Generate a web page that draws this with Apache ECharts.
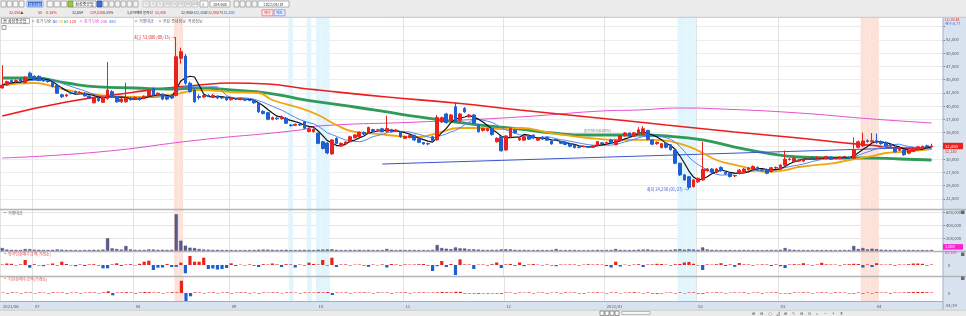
<!DOCTYPE html>
<html><head><meta charset="utf-8">
<script src="https://cdn.jsdelivr.net/npm/echarts@6/dist/echarts.min.js"></script>
<style>html,body{margin:0;padding:0;background:#fff;overflow:hidden}#chart{width:966px;height:316px}</style>
</head><body><div id="chart"></div>
<script>
// ---------------- DATA ----------------
const tradingDays = {
  '2021/06':[22,23,24,25,28,29,30],
  '2021/07':[1,2,5,6,7,8,9,12,13,14,15,16,19,20,21,22,23,26,27,28,29,30],
  '2021/08':[2,3,4,5,6,9,10,11,12,13,17,18,19,20,23,24,25,26,27,30,31],
  '2021/09':[1,2,3,6,7,8,9,10,13,14,15,16,17,23,24,27,28,29,30],
  '2021/10':[1,5,6,7,8,12,13,14,15,18,19,20,21,22,25,26,27,28,29],
  '2021/11':[1,2,3,4,5,8,9,10,11,12,15,16,17,18,19,22,23,24,25,26,29,30],
  '2021/12':[1,2,3,6,7,8,9,10,13,14,15,16,17,20,21,22,23,24,27,28,29,30],
  '2022/01':[3,4,5,6,7,10,11,12,13,14,17,18,19,20,21,24,25,26,27,28],
  '2022/02':[3,4,7,8,9,10,11,14,15,16,17,18,21,22,23,24,25,28],
  '2022/03':[2,3,4,7,8,10,11,14,15,16,17,18,21,22,23,24,25,28,29,30,31],
  '2022/04':[1,4,5,6,7,8,11,12,13,14,15,18,19]
};
const monthTickLabels = {'2021/06':'2021/06','2021/07':'07','2021/08':'08','2021/09':'09','2021/10':'10','2021/11':'11','2021/12':'12','2022/01':'2022/01','2022/02':'02','2022/03':'03','2022/04':'04'};
const priceAxisTicks = [22500,25000,27500,30000,32500,35000,37500,40000,42500,45000,47500,50000,52500];
const volumeAxisTicks = [200000,400000,600000];

// [open, close, low, high]
const priceRows = [
[43400,43950,43300,47700],[43950,44600,43800,44800],[44800,44500,44300,45000],[44600,44800,44400,45000],[45000,44700,44600,45200],
[44400,45400,44300,45600],[46200,45500,45300,46500],[45600,45100,45000,45800],[45600,44800,44700,45800],[45100,44700,44600,45300],
[44700,44600,44400,44900],[44400,43650,43500,44600],[43900,42400,42300,44000],[42100,41750,41500,42300],[41900,42100,41700,42300],
[42500,42400,42200,42700],[42700,42500,42300,42900],[42500,42550,42300,42800],[42400,41900,41800,42600],[41900,41500,41300,42000],
[40600,41500,40500,41700],[41400,41000,40800,41600],[40700,41600,40600,41800],[41400,43000,41200,48300],[42700,41650,41500,43000],
[41750,40800,40600,41900],[40800,41300,40600,41500],[40800,41500,40600,44400],[41450,41200,41000,41700],[41400,41600,41200,41800],
[41500,41200,41000,41700],[41400,41850,41300,42000],[41900,43000,41800,43200],[43300,42100,41900,43500],[42100,42400,41900,42600],
[42200,41300,41100,42400],[41700,41300,41100,41900],[42000,41500,41300,42200],[42000,49300,41800,53000],[49000,50250,48000,51000],
[49400,44300,44000,49800],[44300,42700,42500,44600],[43000,40800,40600,43300],[41800,41600,41200,42200],[41700,42000,41500,42300],
[42000,41900,41700,42200],[41700,42000,41500,42300],[41850,41500,41300,42000],[41600,41500,41300,41800],[41600,41150,41000,41800],
[41200,41400,41000,41600],[41350,41300,41100,41500],[41200,41400,41100,41600],[41300,41100,40900,41400],[41100,41050,40900,41300],
[41000,40600,40400,41100],[40550,38900,38700,40700],[39000,38600,38400,39200],[38750,37500,37300,38900],[37500,37800,37300,38000],
[37700,37600,37400,37900],[37600,38000,37400,38200],[37700,36750,36600,37900],[36400,36300,36100,36600],[36350,36550,36200,36700],
[36600,36400,36200,36800],[37050,35800,35600,37200],[35200,35700,35000,35900],[35150,35600,35000,35800],[34850,32950,32800,35000],
[33250,32000,31800,33400],[33000,31150,30900,33200],[30950,33600,30800,33800],[33900,32950,32800,34100],[32450,32950,32300,33100],
[32850,33200,32700,33400],[33250,34200,33100,34400],[34000,34550,33900,34700],[34250,35050,34100,35200],[35000,34700,34500,35200],
[34850,35950,34700,36100],[35550,35200,35000,35700],[35450,35500,35300,35700],[35700,35150,35000,35900],[35200,35750,35000,38200],
[35550,35150,35000,35700],[35200,35450,35100,35600],[35150,34200,34000,35300],[33900,34250,33800,34400],[34050,34450,33900,34600],
[34450,33600,33400,34600],[33800,33150,33000,33900],[33100,32850,32700,33200],[32900,32850,32600,33100],[34200,33500,33300,34400],
[33600,37850,33500,38300],[37000,37800,36800,38000],[38500,36850,36700,38700],[37300,38300,37100,38500],[39850,37050,36900,40600],
[37300,38500,37100,38700],[39550,38900,38700,39800],[37950,38300,37800,38500],[38300,36750,36600,38500],[36400,35150,35000,36600],
[35400,35750,35200,35900],[35350,35700,35200,35900],[35800,34600,34400,36000],[33250,33900,33100,34100],[34200,31550,31400,34400],
[31700,34350,31500,34500],[34200,35800,34000,36000],[35450,34950,34800,35600],[33600,33900,33400,34100],[33550,34200,33400,34400],
[34300,33750,33600,34500],[34500,33950,33800,34600],[33550,33950,33400,34100],[34150,33750,33600,34300],[34100,33550,33400,34200],
[33400,32850,32700,33500],[33650,33600,33400,33800],[33300,32950,32800,33400],[33150,32750,32600,33300],[32800,32400,32200,32900],
[32600,32150,32000,32700],[32250,32200,32000,32400],[32350,32400,32200,32500],[32300,32250,32100,32450],[32200,32500,32100,32600],
[32500,33300,32400,33400],[33050,32900,32800,33200],[33000,33100,32800,33300],[33600,33100,32900,33800],[32700,33550,32600,33700],
[33500,34400,33400,34500],[34400,34900,34200,35100],[34900,34300,34100,35000],[34300,34950,34200,35100],[34800,35500,34600,36000],
[34700,35700,34600,36200],[35400,33700,33500,35500],[33600,32800,32600,33700],[32900,33150,32700,33300],[32150,32900,32000,33000],
[33000,32200,32000,33100],[32700,31750,31600,32800],[31700,29200,29000,31800],[29200,27000,26800,29300],[27000,26050,25900,27200],
[26650,24650,24250,26800],[24800,26050,24600,26200],[25700,26350,25500,26500],[26050,28050,25900,33250],[27800,28100,27600,28300],
[28100,27500,27300,28300],[27450,28100,27300,28300],[28400,27800,27600,28600],[27500,27200,27000,27700],[27300,26700,26500,27400],
[26800,26900,26600,27000],[27300,27900,27100,28100],[27500,28100,27300,28300],[27950,28300,27800,28500],[28100,28600,27900,28800],
[28400,27950,27800,28600],[27950,27900,27700,28100],[28000,27300,27100,28200],[27650,28350,27500,28500],[28300,28400,28100,28600],
[28050,28850,27900,29000],[28850,29950,28700,31600],[29900,30000,29700,30200],[29500,30150,29400,30300],[29600,29800,29400,30000],
[29600,29900,29400,30100],[29950,30000,29800,30200],[30300,29950,29800,30400],[30050,30350,29900,30500],[30200,30250,30000,30400],
[30050,30450,29900,30600],[30350,29950,29800,30500],[30100,30150,29900,30300],[30100,30400,29950,30500],[30400,30450,30200,30600],
[30300,30200,30100,30500],[30150,31700,30000,34050],[32200,33250,32000,33500],[32450,33400,32300,35000],[33450,33300,33100,33700],
[33250,33450,33100,34900],[33450,33100,32900,34800],[33300,32900,32700,33500],[33150,32500,32300,33300],[32800,32500,32300,33000],
[32000,31350,31200,32100],[31650,32150,31500,32300],[31700,30800,30600,31800],[31100,31700,30900,31900],[31400,32000,31300,32200],
[31700,32300,31600,32400],[32000,32400,31900,32500],[32500,32300,32100,32700],[32300,32450,32300,32900]
];

const tradeValue = [
45000,22000,18000,17000,16000,30000,28000,20000,18000,16000,
15000,18000,24000,20000,16000,15000,14000,13000,16000,17000,
19000,17000,22000,195000,40000,30000,22000,77000,24000,18000,
16000,17000,24000,22000,18000,19000,17000,18000,565000,158000,
82000,51000,45000,30000,22000,20000,18000,17000,16000,15000,
15000,14000,13000,14000,15000,16000,20000,22000,21000,18000,
16000,17000,19000,15000,14000,16000,18000,15000,14000,20000,
22000,24000,26000,18000,15000,14000,17000,16000,18000,14000,
18000,15000,14000,15000,31000,18000,14000,17000,16000,15000,
16000,15000,14000,13000,18000,92000,46000,35000,28000,55000,
40000,38000,25000,26000,22000,18000,16000,18000,17000,24000,
26000,24000,18000,16000,17000,15000,14000,15000,14000,14000,
16000,30000,15000,14000,15000,16000,13000,12000,13000,14000,
18000,14000,15000,16000,30000,18000,16000,15000,17000,20000,
22000,24000,18000,15000,16000,15000,17000,24000,28000,20000,
26000,22000,18000,55000,24000,18000,16000,15000,14000,16000,
13000,15000,16000,14000,15000,13000,12000,14000,16000,15000,
18000,45000,22000,18000,15000,14000,13000,14000,15000,14000,
15000,14000,13000,14000,15000,16000,77000,30000,45000,24000,
35000,28000,20000,18000,16000,18000,15000,17000,16000,15000,
14000,15000,13000,16000
];

const foreignNet = [
5,15,12,-4,6,50,-27,8,-5,-12,
4,15,-6,33,10,-4,-12,5,-10,6,
8,-6,-33,-33,6,17,-10,5,8,-4,
12,33,43,-50,-27,-25,10,-20,-18,23,
-83,90,33,33,73,-40,-35,-45,-40,-30,
17,-10,4,-5,6,-8,-20,8,5,15,
6,-20,8,6,-25,5,-6,23,10,5,
50,-6,73,-20,5,6,-5,4,5,-6,
-18,5,-4,6,-25,10,5,-6,6,4,
5,8,10,-6,-60,-12,40,-20,10,-100,
57,6,5,-40,4,5,-6,8,25,-30,
6,10,-8,25,-12,5,10,4,-5,6,
-6,-12,5,4,6,5,-6,4,8,5,
6,4,-10,-25,33,-15,4,-6,5,8,
-20,5,6,12,10,4,-6,8,10,25,
30,12,-5,-50,6,4,8,18,-10,6,
-18,20,6,5,-6,4,6,5,-10,6,
-12,-30,5,8,6,18,4,-6,5,22,
6,5,4,-6,6,8,12,10,-25,6,
-20,18,5,4,6,-6,5,4,8,15,
15,12,-6,5
];

const instNet = [
4,-5,6,4,-5,6,5,-4,5,4,
-5,6,4,5,-6,4,5,-5,4,6,
5,-4,6,17,-23,5,6,8,5,-6,
6,10,8,5,6,-5,4,8,6,123,
-83,-33,6,5,-5,4,6,-4,5,6,
-5,4,6,5,-5,4,-6,5,4,6,
5,-4,6,5,4,-5,6,4,5,8,
6,10,-20,5,4,6,-5,4,5,6,
4,-5,6,4,5,-6,4,5,6,-5,
4,5,6,4,5,6,10,8,6,12,
12,-6,-5,-6,-8,-5,-6,-5,-6,-8,
5,4,-6,5,4,6,-5,4,5,-6,
4,5,-5,6,4,5,-5,-6,4,5,
6,4,-5,5,6,-4,4,5,8,4,
-5,6,-6,-8,-5,4,5,-5,6,-4,
5,6,-6,-8,5,4,6,5,-5,4,
5,4,6,-5,4,5,-6,4,5,6,
-4,-5,-6,5,4,6,5,-5,4,6,
5,-4,6,5,4,-5,-6,5,-6,4,
-5,6,4,5,-6,5,4,6,8,10,
10,10,8,5
];

// moving averages: [day index, value]
const ma20Pts = [[0,43960],[7,44340],[10,43960],[14,43020],[21,42080],[30,41700],[37,42080],[40,42640],[43,43020],[50,42640],[56,42450],[59,41130],[65,39620],[69,38300],[73,36420],[77,35100],[80,34900],[84,34530],[91,34150],[95,34900],[100,35850],[104,35850],[110,35660],[113,35850],[120,34900],[128,33960],[135,33590],[142,33590],[149,32640],[153,31130],[156,29810],[160,28870],[164,28110],[167,27550],[171,27920],[174,28490],[182,29250],[185,29810],[189,30380],[193,31130],[196,31320],[201,31700],[203,31890]];
const ma60Pts = [[0,45280],[7,45280],[14,44340],[21,43590],[29,43400],[36,43210],[43,43400],[50,43020],[58,42450],[65,41320],[69,40760],[77,39810],[84,38870],[91,37930],[99,36980],[106,36230],[113,35660],[120,34910],[128,34530],[139,34530],[145,34340],[153,33590],[160,32260],[167,31130],[174,30380],[182,30190],[189,30190],[196,30000],[203,29810]];
const ma120Pts = [[0,38110],[14,40760],[29,42640],[36,43400],[43,43960],[50,44340],[58,44150],[65,43400],[69,43020],[84,41700],[99,40570],[113,39250],[128,37930],[139,36980],[145,36420],[160,35100],[174,33960],[182,33210],[189,32640],[196,32080],[203,31890]];
const ma240Pts = [[0,30190],[21,31320],[43,33590],[65,35470],[69,36230],[91,36980],[113,37930],[131,39060],[139,39250],[148,39620],[157,39440],[174,38680],[190,37550],[203,36800]];
const trendPts = [[83,29050],[203,32250]];

const blueBandDays = [63,67,69,70,71,148,149,150,151];
const pinkBandDays = [38,39,188,189,190,191];

const highNote = {day:38, price:53000, text:'최고 53,000 (08/13)'};
const lowNote = {day:150, price:24250, text:'최저 24,250 (01/27)'};
const trendNote = {day:127, price:35300, text:'종가대비(0.00%)'};

// ---------------- BUILD ----------------
const categories = [];
const monthStart = {};
Object.keys(tradingDays).forEach(m => {
  monthStart[categories.length] = monthTickLabels[m];
  tradingDays[m].forEach(d => categories.push(m + '/' + String(d).padStart(2,'0')));
});
categories.push('', '');

const closes = priceRows.map(r => r[1]);
function sma(n){
  return closes.map((_, i) => { const s = Math.max(0, i-n+1); let t = 0; for (let k=s;k<=i;k++) t += closes[k]; return Math.round(t/(i-s+1)); });
}
const ma5 = sma(5), ma10 = sma(10);

const FONT = "'Noto Sans CJK KR','Liberation Sans',sans-serif";
const UP = '#e8231e', DOWN = '#1f5fd0';
const fmt = v => v.toLocaleString('en-US');
const AX = 4.2;

const G = [
  {left:0, right:23, top:13.25, height:198.75},
  {left:0, right:23, top:209, height:42},
  {left:0, right:23, top:251, height:25},
  {left:0, right:23, top:276, height:25}
];
const yr = [[20000,57500],[0,646154],[-110,140],[-80,170]];

function xAx(gi, showLabel){
  return {type:'category', gridIndex:gi, data:categories, boundaryGap:true,
    axisLine:{show:false}, axisTick:{show:false},
    axisLabel:{show:showLabel, interval:(i)=> (i in monthStart), formatter:(v,i)=> monthStart[i] || '',
      fontSize:AX, color:'#555', align:'left', margin:3, fontFamily:FONT},
    splitLine:{show:true, interval:(i)=> (i in monthStart), lineStyle:{color:'#e3e3e3', width:1}}};
}
function bandSeries(gi, days, color){
  return {type:'custom', xAxisIndex:gi, yAxisIndex:gi, silent:true, z:1, data:days.map(d=>[d]), encode:{x:0},
    renderItem:(p, api) => {
      const i = api.value(0);
      const a = api.coord([i, yr[gi][1]]), b = api.coord([i, yr[gi][0]]);
      const w = api.size([1, 0])[0];
      return {type:'rect', shape:{x:a[0]-w/2, y:a[1], width:w, height:b[1]-a[1]}, style:{fill:color}};
    }};
}
function lineS(name, data, color, width, smooth){
  return {name, type:'line', xAxisIndex:0, yAxisIndex:0, data, symbol:'none', smooth:smooth, z:3,
    lineStyle:{color, width}, silent:true, animation:false};
}
const netColor = p => p.value >= 0 ? UP : DOWN;
function note(n, color){
  return {coord:[n.day, n.price], label:{show:true, position:'left', distance:1, formatter:n.text, color, fontSize:4.2, fontFamily:FONT}};
}

const option = {
  animation:false,
  textStyle:{fontFamily:FONT},
  grid:G,
  xAxis:[xAx(0,false), xAx(1,false), xAx(2,false), xAx(3,true)],
  yAxis:[
    {type:'value', gridIndex:0, position:'right', min:yr[0][0], max:yr[0][1], interval:2500,
      axisLine:{show:false}, axisTick:{show:true, length:2, lineStyle:{color:'#888'}},
      axisLabel:{fontSize:AX, color:'#555', margin:3, fontFamily:FONT, formatter:v => priceAxisTicks.includes(v) ? fmt(v) : ''},
      splitLine:{lineStyle:{color:'#ececec'}}},
    {type:'value', gridIndex:1, position:'right', min:yr[1][0], max:yr[1][1], interval:200000,
      axisLine:{show:false}, axisTick:{show:true, length:2, lineStyle:{color:'#888'}},
      axisLabel:{fontSize:AX, color:'#555', margin:3, fontFamily:FONT, formatter:v => volumeAxisTicks.includes(v) ? fmt(v) : ''},
      splitLine:{lineStyle:{color:'#e6e6e6'}}},
    {type:'value', gridIndex:2, position:'right', min:yr[2][0], max:yr[2][1], interval:110,
      axisLine:{show:false}, axisTick:{show:false},
      axisLabel:{fontSize:AX, color:'#555', margin:5, fontFamily:FONT, formatter:v => v===0 ? '0' : ''},
      splitLine:{show:false}},
    {type:'value', gridIndex:3, position:'right', min:yr[3][0], max:yr[3][1], interval:80,
      axisLine:{show:false}, axisTick:{show:false},
      axisLabel:{fontSize:AX, color:'#555', margin:5, fontFamily:FONT, formatter:v => v===0 ? '0' : ''},
      splitLine:{show:false}}
  ],
  series:[
    bandSeries(0, blueBandDays, '#e1f5fc'), bandSeries(0, pinkBandDays, '#fde2da'),
    bandSeries(1, blueBandDays, '#e1f5fc'), bandSeries(1, pinkBandDays, '#fde2da'),
    bandSeries(2, blueBandDays, '#e1f5fc'), bandSeries(2, pinkBandDays, '#fde2da'),
    bandSeries(3, blueBandDays, '#e1f5fc'), bandSeries(3, pinkBandDays, '#fde2da'),
    lineS('MA240', ma240Pts, '#e24fd0', 1, true),
    lineS('MA120', ma120Pts, '#ee1c1c', 1.6, true),
    lineS('MA60', ma60Pts, '#2f9a5a', 2.8, true),
    lineS('trend', trendPts, '#3a55c8', 1, false),
    {type:'candlestick', xAxisIndex:0, yAxisIndex:0, data:priceRows.map(r=>[r[0],r[1],r[2],r[3]]), barWidth:3.2, z:4,
      itemStyle:{color:UP, color0:DOWN, borderColor:UP, borderColor0:DOWN, borderWidth:1},
      markPoint:{symbol:'circle', symbolSize:0.1, silent:true, data:[
        note({...highNote, text:highNote.text+' →'}, UP),
        note({...lowNote, text:lowNote.text+' →'}, '#3a55c8'),
        {coord:[trendNote.day, trendNote.price], label:{show:true, position:'right', distance:0, formatter:trendNote.text, color:'#777', fontSize:3.8, fontFamily:FONT}}
      ]}},
    lineS('MA20', ma20Pts, '#f2a50c', 1.8, true),
    lineS('MA10', ma10, '#4f86f2', 1, false),
    lineS('MA5', ma5, '#111', 1.2, false),
    {type:'bar', xAxisIndex:1, yAxisIndex:1, data:tradeValue, barWidth:3.2, z:3, itemStyle:{color:'#5b5b8f', borderColor:'#3f3f70', borderWidth:0.4}},
    {type:'bar', xAxisIndex:2, yAxisIndex:2, data:foreignNet, barWidth:3.2, z:3, itemStyle:{color:netColor}},
    {type:'bar', xAxisIndex:3, yAxisIndex:3, data:instNet, barWidth:3.2, z:3, itemStyle:{color:netColor}}
  ]
};

const chart = echarts.init(document.getElementById('chart'), null, {renderer:'canvas'});
chart.setOption(option);

// ---------------- CHROME (toolbar, axis column, labels) ----------------
const gfx = [];
function R(x,y,w,h,fill,stroke,z){ gfx.push({type:'rect', z:z||50, silent:true, shape:{x,y,width:w,height:h}, style:{fill:fill||'none', stroke:stroke||null, lineWidth:stroke?0.8:0}}); }
function T(x,y,s,color,size,opt){ opt=opt||{}; gfx.push({type:'text', z:opt.z||60, silent:true, x, y, style:{text:s, fill:color||'#333', font:(opt.bold?'bold ':'')+(size||4)+'px '+FONT, textAlign:opt.align||'left', textVerticalAlign:'middle'}}); }
function L(x1,y1,x2,y2,color,w,z){ gfx.push({type:'line', z:z||55, silent:true, shape:{x1,y1,x2,y2}, style:{stroke:color, lineWidth:w||1}}); }

// right axis column + x axis band (behind labels)
R(943,17,23,299,'#d8e3ef',null,-1);
R(0,301,943,9,'#d8e3ef',null,-1);
L(943,17,943,310,'#9fb0c4',1,56);
L(0,301.5,943,301.5,'#9fb0c4',1,56);
// pane separators
L(0,209.5,966,209.5,'#b5b5b5',1.5);
L(0,251.5,966,251.5,'#b5b5b5',1.5);
L(0,276.5,966,276.5,'#b5b5b5',1.5);
T(946,305.5,'04/19','#555',AX);
// top toolbar
R(0,0,966,17,'#ececec',null,70);
L(0,17.3,966,17.3,'#c4c4c4',1,71);
// row 1 icons
[0,6,12,18].forEach(x=>R(x+1,1,5,6,'#f8f8f8','#9a9a9a',72));
R(27,1,16,6,'#ffffff','#7a9ad8',72); R(28,1.6,14,4.8,'#3d6fd6',null,73); T(35,4.2,'010140','#fff',3.8,{align:'center',z:74});
R(47,1,6,6,'#f8f8f8','#9a9a9a',72); R(54,1,6,6,'#f8f8f8','#9a9a9a',72); R(61,1,6,6,'#f8f8f8','#9a9a9a',72);
R(68,1,5,6,'#9cc83c','#6d9a22',72);
R(73,1,23,6,'#ffffff','#9a9a9a',72); T(84.5,4.2,'삼성중공업','#222',4,{align:'center',z:74});
R(97,1,5,6,'#3d6fd6','#2d57b0',72); [103,109,115,121,127,133].forEach(x=>R(x,1,5,6,'#f4f4f4','#a0a0a0',72));
['1','3','5','10','15','30','60','120'].forEach((s,i)=>{R(143+i*7,1,6,6,'#f2f2f2','#c0c0c0',72); T(146+i*7,4.2,s,'#9a9a9a',3.4,{align:'center',z:74});});
R(200,1,8,6,'#ffffff','#a0a0a0',72); T(203,4.2,'3','#555',3.6,{align:'center',z:74});
R(210,1,20,6,'#ffffff','#a0a0a0',72); T(220,4.2,'204/500','#333',3.6,{align:'center',z:74});
[234,240,246,252].forEach(x=>R(x,1,5,6,'#f4f4f4','#a0a0a0',72));
R(258,1,31,6,'#ffffff','#a0a0a0',72); T(273.5,4.2,'2022/04/19','#333',3.8,{align:'center',z:74});
// row 2 quote
const Q = 3.6, qy = 12.8;
T(9,qy,'32,450▲','#e8231e',Q,{z:74}); T(38,qy,'50','#e8231e',Q,{z:74}); T(45,qy,'-0.15%','#e8231e',Q,{z:74});
T(72,qy,'32,659','#333',Q,{z:74}); T(90,qy,'129,038','#e8231e',Q,{z:74}); T(103,qy,'0.33%','#333',Q,{z:74});
T(127,qy,'1,079백만','#333',Q,{z:74}); T(143,qy,'등락선','#333',Q,{z:74});
T(155,qy,'32,450','#e8231e',Q,{z:74}); T(181,qy,'32,400','#333',Q,{z:74});
T(191.5,qy,'시','#333',Q,{z:74}); T(195,qy,'32,300','#1f5fd0',Q,{z:74});
T(204.5,qy,'고','#333',Q,{z:74}); T(208,qy,'32,900','#e8231e',Q,{z:74});
T(219.5,qy,'저','#333',Q,{z:74}); T(223.5,qy,'32,300','#1f5fd0',Q,{z:74});
R(262,9.8,11,6,'#ffe9e9','#e07a7a',72); T(267.5,qy,'매수','#e8231e',Q,{align:'center',z:74});
R(274,9.8,11,6,'#e6eeff','#7a98e0',72); T(279.5,qy,'매도','#1f5fd0',Q,{align:'center',z:74});
// main pane header line
const H = 4, hy = 21;
R(1.5,18.4,28,5.2,'#ffffff','#9a9a9a',60);
T(3,hy,'▣ 삼성중공업','#333',H);
T(31,hy,'× 종가 단순 5','#666',H); T(53,hy,'10','#3a6fe0',H); T(58.5,hy,'20','#f0a000',H); T(64,hy,'60','#2f9a5a',H); T(69.5,hy,'120','#e8231e',H);
T(79,hy,'× 종가 단순 240','#d94fc8',H); T(109,hy,'480','#3a6fe0',H);
T(134,hy,'× 거래대금','#5b5b8f',H); T(158,hy,'× 주요 증세정보','#666',H); T(188,hy,'작성정보','#666',H);
R(2,25.5,4,4,'#f4f4f4','#8a8a8a',60);
// right column top texts
T(945,19.6,'LC:30.61','#e8231e',3.8); T(945,24,'배수:0.77','#3a6fe0',3.8);
// pane labels
T(3,213,'▪ 거래대금','#666',H);
T(3,254.5,'▪ 외국인순매수금액(거래소)','#e05050',H);
T(3,279.5,'▪ 기관순매수금액(거래소)','#e05050',H);
[212,254,278].forEach(y=>R(961,y-1.5,3.5,3.5,'#6a6a6a',null,58));
// last close box (positioned through the price scale)
const lastClose = closes[closes.length-1];
const yClose = chart.convertToPixel({yAxisIndex:0}, lastClose);
R(943,yClose-3.2,20,6.4,'#e8231e',null,58); T(945,yClose,fmt(lastClose),'#fff',AX,{z:59});
T(945,yClose+5.5,'32,150','#e8231e',3.8);
// volume last-value box
const yVol = chart.convertToPixel({yAxisIndex:1}, 60000);
R(943,yVol-3,20,5.5,'#ff1fd6',null,58); T(945,yVol-0.3,'1,000','#fff',3.8,{z:59});
T(945,yVol+5,'61,168','#ff1fd6',3.8);
// bottom bar
R(0,310,966,6,'#ececec',null,70); L(0,310.3,966,310.3,'#c8c8c8',0.8,71);
[600,605,610,615].forEach(x=>R(x,311,4,4.4,'#ffffff','#777',72));
R(622,311.5,28,3,'#f8f8f8','#aaa',72);
['⊞','⊟','◇','⊿','⊞','✎','⊟','⊡','⌕','−','+','⊼'].forEach((s,i)=>T(752+i*8,313.3,s,'#555',4.4,{z:74}));

chart.setOption({graphic:{elements:gfx}});
</script></body></html>
